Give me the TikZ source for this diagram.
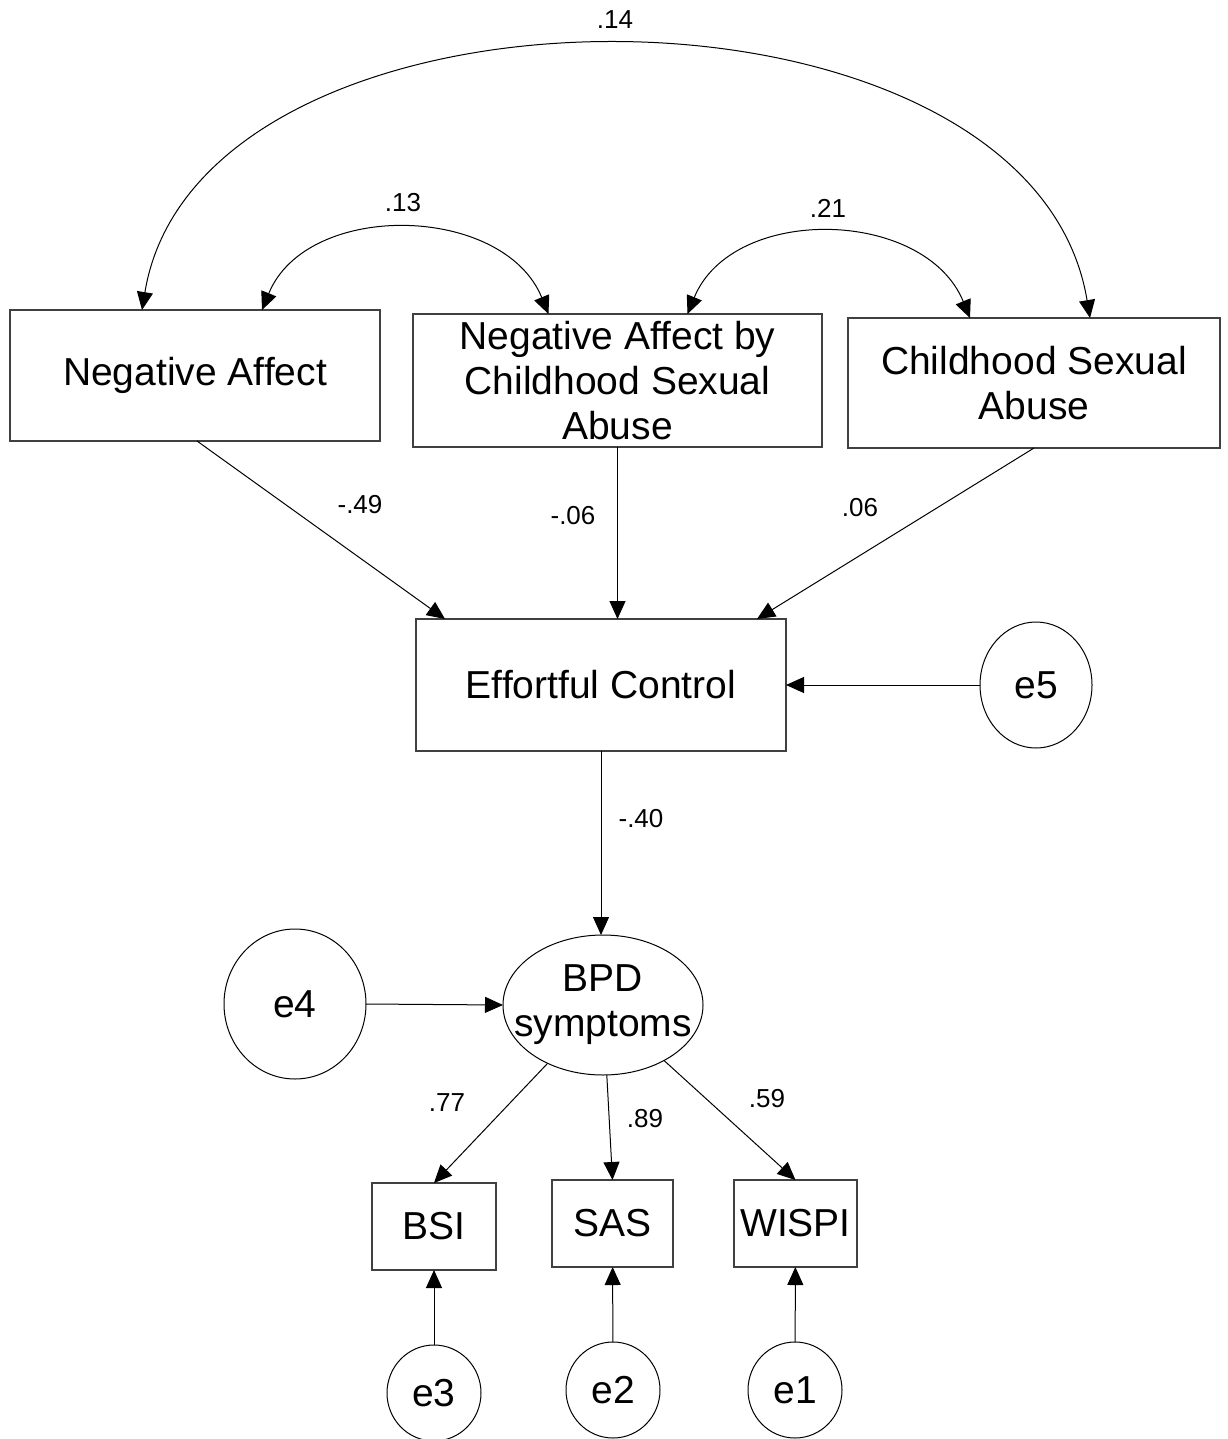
\documentclass[tikz,border=0pt]{standalone}
\usepackage{fontspec}
\setmainfont{Liberation Sans}
\usetikzlibrary{arrows.meta,shapes.geometric,calc}
\begin{document}
\begin{tikzpicture}[x=0.5pt,y=-0.5pt,
  box/.style={draw=black!75,line width=0.6pt,rectangle,inner sep=0pt,outer sep=0pt,align=center,font=\fontsize{19.5}{22.5}\selectfont},
  ell/.style={draw=black,line width=0.5pt,ellipse,inner sep=0pt,outer sep=0pt,align=center,font=\fontsize{19.5}{22.5}\selectfont},
  arr/.style={draw=black,line width=0.5pt,-{Triangle[length=9pt,width=8pt]}},
  dbl/.style={draw=black,line width=0.5pt,{Triangle[length=9pt,width=8pt]}-{Triangle[length=9pt,width=8pt]}},
  lab/.style={inner sep=0pt,font=\fontsize{13}{15}\selectfont}]
\useasboundingbox (0,0) rectangle (1227,1439);
\fill[white] (0,0) rectangle (1227,1439);

\node[box,minimum width=185pt,minimum height=65.5pt] (na) at (195,375.5) {Negative Affect};
\node[box,minimum width=204.5pt,minimum height=66.5pt] (nacsa) at (617.5,380.5) {Negative Affect by\\Childhood Sexual\\Abuse};
\node[box,minimum width=186pt,minimum height=65pt] (csa) at (1034,383) {Childhood Sexual\\Abuse};
\node[box,minimum width=185pt,minimum height=66pt] (ec) at (601,685) {Effortful Control};
\node[ell,minimum width=56pt,minimum height=63pt] (e5) at (1036,685) {e5};
\node[ell,inner sep=-25pt,minimum width=100pt,minimum height=70pt] (bpd) at (603,1005) {BPD\\symptoms};
\node[ell,minimum width=71pt,minimum height=75pt] (e4) at (295,1004) {e4};
\node[box,minimum width=62pt,minimum height=43.5pt] (bsi) at (434,1226.5) {BSI};
\node[box,minimum width=60.5pt,minimum height=43.5pt] (sas) at (612.5,1223.5) {SAS};
\node[box,minimum width=61.5pt,minimum height=43.5pt] (wispi) at (795.5,1223.5) {WISPI};
\node[ell,minimum width=47pt,minimum height=48pt] (e3) at (434,1393) {e3};
\node[ell,minimum width=47pt,minimum height=48pt] (e2) at (613,1390) {e2};
\node[ell,minimum width=47pt,minimum height=48pt] (e1) at (795,1390) {e1};

% covariances
\draw[dbl] ($(na.north)+(-53,0)$) .. controls +(58,-353) and +(-60,-362) .. ($(csa.north)+(56,0)$);
\draw[dbl] ($(na.north)+(67,0)$) .. controls +(45,-110) and +(-45,-110) .. ($(nacsa.north)+(-69,0)$);
\draw[dbl] ($(nacsa.north)+(70,0)$) .. controls +(45,-110) and +(-45,-110) .. ($(csa.north)+(-64,0)$);

% paths
\draw[arr] ($(na.south)+(2,0)$) -- ($(ec.north west)+(29,0)$);
\draw[arr] (nacsa.south) -- (nacsa.south |- ec.north);
\draw[arr] (csa.south) -- ($(ec.north east)+(-29,0)$);
\draw[arr] (e5.west) -- (e5.west -| ec.east);
\draw[arr] (ec.south) -- (ec.south |- bpd.north);
\draw[arr] (e4.east) -- (bpd.west);
\draw[arr] (bpd) -- (bsi.north);
\draw[arr] (bpd) -- (sas.north);
\draw[arr] (bpd) -- (wispi.north);
\draw[arr] (e3) -- (bsi);
\draw[arr] (e2) -- (sas);
\draw[arr] (e1) -- (wispi);

% labels
\node[lab] (l14) at (615,20) {.14};
\node[lab] (l13) at (403,203) {.13};
\node[lab] (l21) at (828,208) {.21};
\node[lab] (l49) at (360,505) {-.49};
\node[lab] (l06a) at (573,516) {-.06};
\node[lab] (l06b) at (860,508) {.06};
\node[lab] (l40) at (641,819) {-.40};
\node[lab] (l77) at (447,1103) {.77};
\node[lab] (l89) at (645,1119) {.89};
\node[lab] (l59) at (767,1099) {.59};
\end{tikzpicture}
\end{document}
